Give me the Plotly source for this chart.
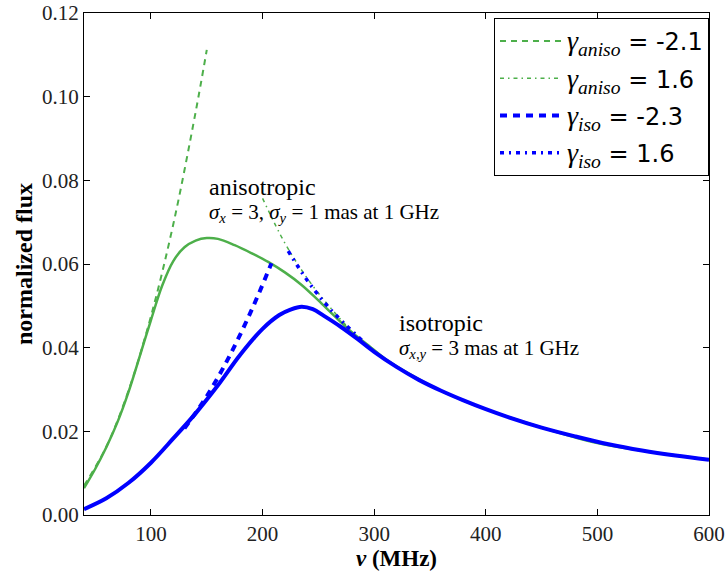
import plotly.graph_objects as go

# Flux density vs frequency (MHz)
nu_aniso = [40, 50, 60, 70, 80, 90, 100, 110, 120, 130, 140, 150, 160, 175, 190, 205, 220,
            235, 250, 265, 280, 295, 310, 330, 360, 400, 450, 500, 550, 600]
flux_aniso = [0.0064, 0.0110, 0.0162, 0.0222, 0.0295, 0.0380, 0.0466, 0.0548, 0.0607, 0.0640,
              0.0656, 0.0662, 0.0660, 0.0645, 0.0626, 0.0605, 0.0580, 0.0550, 0.0513, 0.0474,
              0.0437, 0.0405, 0.0373, 0.0340, 0.0297, 0.0253, 0.0209, 0.0172, 0.0150, 0.0132]

nu_iso = [40, 60, 80, 100, 120, 140, 160, 180, 200, 215, 225, 235, 245, 255, 270, 285, 300,
          320, 340, 360, 380, 400, 420, 450, 480, 510, 540, 570, 600]
flux_iso = [0.0014, 0.0040, 0.0077, 0.0125, 0.0183, 0.0243, 0.0310, 0.0383, 0.0445, 0.0478,
            0.0491, 0.0498, 0.0492, 0.0476, 0.0450, 0.0421, 0.0390, 0.0354, 0.0323, 0.0297,
            0.0274, 0.0253, 0.0234, 0.0209, 0.0188, 0.0169, 0.0154, 0.0142, 0.0132]

# Power-law asymptotes
nu_aniso_lo = [40, 60, 80, 100, 120, 140, 150]
flux_aniso_lo = [0.0070, 0.0163, 0.0298, 0.0475, 0.0695, 0.0963, 0.1112]
nu_aniso_hi = [200, 220, 240, 260, 285]
flux_aniso_hi = [0.0757, 0.0650, 0.0566, 0.0498, 0.0424]
nu_iso_lo = [130, 150, 170, 190, 208]
flux_iso_lo = [0.0207, 0.0284, 0.0378, 0.0489, 0.0602]
nu_iso_hi = [223, 240, 260, 290]
flux_iso_hi = [0.0631, 0.0561, 0.0494, 0.0415]

GREEN = "#4daf4a"
BLUE = "#0000ff"
SERIF = "Liberation Serif"


def leg(sub, val):
    return (f"<span style='font-family:{SERIF};font-size:28px'><i>γ<sub>{sub}</sub></i></span>"
            f" = {val}")


fig = go.Figure()
fig.add_trace(go.Scatter(x=nu_aniso, y=flux_aniso, mode="lines", line_shape="spline",
                         line=dict(color=GREEN, width=2.5), showlegend=False))
fig.add_trace(go.Scatter(x=nu_aniso_lo, y=flux_aniso_lo, mode="lines", line_shape="spline",
                         line=dict(color=GREEN, width=2, dash="6px,5px"),
                         name=leg("aniso", "-2.1"), legendgroup="a"))
fig.add_trace(go.Scatter(x=nu_aniso_hi, y=flux_aniso_hi, mode="lines", line_shape="spline",
                         line=dict(color=GREEN, width=1.5, dash="4px,4px,1.5px,4px"),
                         name=leg("aniso", "1.6"), legendgroup="b"))
fig.add_trace(go.Scatter(x=nu_iso, y=flux_iso, mode="lines", line_shape="spline",
                         line=dict(color=BLUE, width=4), showlegend=False))
fig.add_trace(go.Scatter(x=nu_iso_lo, y=flux_iso_lo, mode="lines", line_shape="spline",
                         line=dict(color=BLUE, width=4, dash="7px,6px"),
                         name=leg("iso", "-2.3"), legendgroup="c"))
fig.add_trace(go.Scatter(x=nu_iso_hi, y=flux_iso_hi, mode="lines", line_shape="spline",
                         line=dict(color=BLUE, width=3.5, dash="4px,5px,2px,5px"),
                         name=leg("iso", "1.6"), legendgroup="d"))

fig.add_annotation(x=150, y=0.0785, xref="x", yref="y", xanchor="left", yanchor="middle",
                   text="anisotropic", showarrow=False,
                   font=dict(family=SERIF, size=24, color="black"))
fig.add_annotation(x=150, y=0.0722, xref="x", yref="y", xanchor="left", yanchor="middle",
                   text="<i>σ<sub>x</sub></i> = 3, <i>σ<sub>y</sub></i> = 1 mas at 1 GHz",
                   showarrow=False, font=dict(family=SERIF, size=21, color="black"))
fig.add_annotation(x=320, y=0.0459, xref="x", yref="y", xanchor="left", yanchor="middle",
                   text="isotropic", showarrow=False,
                   font=dict(family=SERIF, size=24, color="black"))
fig.add_annotation(x=320, y=0.0398, xref="x", yref="y", xanchor="left", yanchor="middle",
                   text="<i>σ<sub>x,y</sub></i> = 3 mas at 1 GHz",
                   showarrow=False, font=dict(family=SERIF, size=21, color="black"))

axis_common = dict(showline=True, linecolor="black", linewidth=1, mirror="ticks",
                   ticks="inside", ticklen=6, tickcolor="black", showgrid=False,
                   zeroline=False, automargin=False,
                   tickfont=dict(family=SERIF, size=21, color="#222"))

fig.update_xaxes(range=[40, 600], tickvals=[100, 200, 300, 400, 500, 600],
                 title=dict(text="<b><i>ν</i> (MHz)</b>", standoff=2,
                            font=dict(family=SERIF, size=23, color="black")),
                 **axis_common)
fig.update_yaxes(range=[0, 0.12], dtick=0.02, tickformat=".2f",
                 title=dict(text="<b>normalized flux</b>", standoff=2,
                            font=dict(family=SERIF, size=24, color="black")),
                 **axis_common)

fig.update_layout(
    width=726, height=572,
    margin=dict(l=84, r=17, t=13, b=57, autoexpand=False),
    paper_bgcolor="white", plot_bgcolor="white",
    legend=dict(x=1.0, y=0.99, xanchor="right", yanchor="top",
                bgcolor="white", bordercolor="black", borderwidth=1,
                font=dict(family="DejaVu Sans", size=24, color="black"),
                tracegroupgap=3, itemwidth=62),
)

fig.write_html("out.html")
